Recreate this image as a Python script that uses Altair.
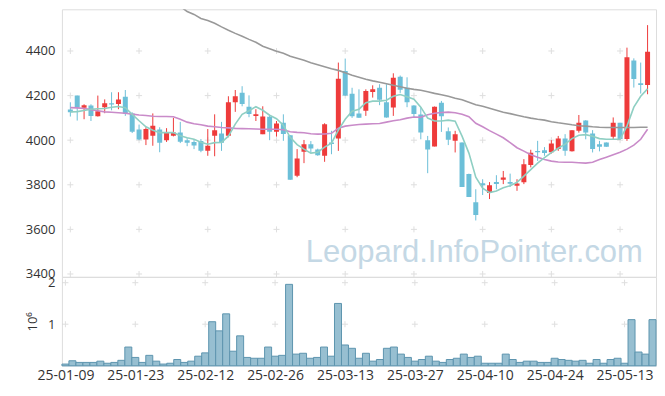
import json
import altair as alt
import pandas as pd

dates = [
    "25-01-09", "25-01-10", "25-01-13", "25-01-14", "25-01-15", "25-01-16", "25-01-17", "25-01-20", "25-01-21", "25-01-22",
    "25-01-23", "25-01-24", "25-01-31", "25-02-03", "25-02-04", "25-02-05", "25-02-06", "25-02-07", "25-02-10", "25-02-11",
    "25-02-12", "25-02-13", "25-02-14", "25-02-17", "25-02-18", "25-02-19", "25-02-20", "25-02-21", "25-02-24", "25-02-25",
    "25-02-26", "25-02-27", "25-02-28", "25-03-04", "25-03-05", "25-03-06", "25-03-07", "25-03-10", "25-03-11", "25-03-12",
    "25-03-13", "25-03-14", "25-03-17", "25-03-18", "25-03-19", "25-03-20", "25-03-21", "25-03-24", "25-03-25", "25-03-26",
    "25-03-27", "25-03-28", "25-03-31", "25-04-01", "25-04-02", "25-04-03", "25-04-04", "25-04-07", "25-04-08", "25-04-09",
    "25-04-10", "25-04-11", "25-04-14", "25-04-15", "25-04-16", "25-04-17", "25-04-18", "25-04-21", "25-04-22", "25-04-23",
    "25-04-24", "25-04-25", "25-04-28", "25-04-29", "25-04-30", "25-05-02", "25-05-07", "25-05-08", "25-05-09", "25-05-12",
    "25-05-13", "25-05-14", "25-05-15", "25-05-16", "25-05-19",
]

opens = [4138, 4200, 4145, 4155, 4107, 4148, 4166, 4162, 4195, 4120,
         4048, 4003, 4020, 4048, 4000, 4020, 4035, 4000, 3992, 3996,
         3953, 4020, 4030, 4020, 4170, 4213, 4150, 4109, 4027, 4105,
         4038, 4078, 4022, 3840, 3948, 3982, 3958, 3930, 3990, 4008,
         4310, 4208, 4120, 4132, 4216, 4235, 4170, 4147, 4284, 4235,
         4155, 4115, 4000, 3972, 4168, 4040, 3998, 3990, 3848, 3722,
         3807, 3763, 3812, 3823, 3812, 3796, 3811, 3889, 3951, 3955,
         3946, 3960, 4008, 3950, 4042, 4088, 4030, 3982, 3990, 4015,
         4078, 4005, 4357, 4255, 4248]
highs = [4170, 4200, 4161, 4161, 4200, 4183, 4215, 4215, 4225, 4125,
         4070, 4058, 4120, 4058, 4054, 4100, 4082, 4009, 4005, 4005,
         4050, 4116, 4082, 4197, 4225, 4242, 4201, 4139, 4152, 4110,
         4086, 4116, 4022, 3960, 4001, 3996, 3962, 4076, 4042, 4348,
         4366, 4235, 4228, 4228, 4246, 4251, 4251, 4300, 4290, 4282,
         4157, 4148, 4019, 4151, 4176, 4057, 4042, 3990, 3850, 3780,
         3825, 3812, 3843, 3862, 3850, 3825, 3915, 3957, 3997, 3969,
         4000, 4019, 4027, 4045, 4113, 4090, 4045, 3997, 3990, 4102,
         4078, 4415, 4367, 4348, 4516]
lows = [4106, 4088, 4094, 4086, 4106, 4121, 4134, 4139, 4109, 4032,
        4000, 3978, 3975, 3946, 3992, 4017, 3987, 3973, 3960, 3946,
        3930, 3928, 3952, 4013, 4127, 4152, 4103, 4086, 4027, 4000,
        4016, 3997, 3822, 3834, 3897, 3943, 3930, 3903, 3937, 3952,
        4198, 4100, 4100, 4109, 4191, 4157, 4101, 4109, 4212, 4148,
        4100, 4004, 3852, 3972, 4037, 3978, 3945, 3790, 3745, 3640,
        3754, 3736, 3780, 3803, 3790, 3773, 3803, 3878, 3907, 3930,
        3940, 3952, 3930, 3949, 4034, 4004, 3945, 3950, 3970, 4004,
        4004, 3997, 4236, 4209, 4206]
closes = [4125, 4145, 4157, 4108, 4130, 4166, 4160, 4182, 4118, 4038,
          4003, 4050, 4065, 3988, 4035, 4035, 3993, 3988, 3976, 3953,
          3975, 4045, 3988, 4170, 4197, 4162, 4117, 4116, 4106, 4038,
          4075, 4028, 3822, 3918, 3982, 3963, 3932, 4072, 3983, 4275,
          4200, 4107, 4101, 4220, 4228, 4181, 4102, 4280, 4226, 4170,
          4117, 4035, 3958, 4150, 4107, 4002, 4027, 3790, 3745, 3665,
          3798, 3798, 3804, 3833, 3805, 3806, 3892, 3944, 3946, 3943,
          3985, 4008, 3953, 4045, 4078, 4035, 3960, 3970, 3971, 4078,
          4005, 4372, 4274, 4247, 4397]
volumes_m = [0.04, 0.12, 0.08, 0.08, 0.08, 0.11, 0.06, 0.08, 0.13, 0.45,
             0.20, 0.08, 0.25, 0.11, 0.04, 0.06, 0.15, 0.08, 0.11, 0.23,
             0.31, 1.06, 0.84, 1.25, 0.35, 0.72, 0.20, 0.18, 0.18, 0.45,
             0.23, 0.25, 1.96, 0.28, 0.30, 0.18, 0.20, 0.45, 0.23, 1.50,
             0.50, 0.42, 0.18, 0.30, 0.11, 0.15, 0.42, 0.45, 0.28, 0.20,
             0.11, 0.15, 0.23, 0.11, 0.08, 0.15, 0.18, 0.28, 0.20, 0.23,
             0.06, 0.06, 0.06, 0.28, 0.15, 0.08, 0.11, 0.11, 0.08, 0.08,
             0.18, 0.15, 0.13, 0.11, 0.13, 0.06, 0.15, 0.06, 0.15, 0.18,
             0.06, 1.11, 0.33, 0.28, 1.11]
ma_short = [4127, 4128, 4133, 4139, 4141, 4142, 4148, 4151, 4146, 4116,
            4087, 4060, 4045, 4034, 4034, 4034, 4020, 4011, 4004, 3991,
            3982, 3989, 3990, 4018, 4072, 4116, 4132, 4150, 4134, 4112,
            4096, 4067, 4013, 3980, 3960, 3942, 3946, 3969, 3987, 4045,
            4094, 4130, 4139, 4168, 4175, 4175, 4179, 4197, 4205, 4195,
            4184, 4148, 4099, 4086, 4086, 4090, 4085, 4018, 3942, 3834,
            3785, 3765, 3772, 3787, 3796, 3811, 3839, 3868, 3897, 3922,
            3944, 3964, 3982, 4007, 4022, 4025, 4018, 4007, 4004, 4004,
            4004, 4063, 4148, 4197, 4230]
ma_mid = [4146, 4145, 4142, 4137, 4132, 4127, 4125, 4123, 4121, 4117,
          4113, 4111, 4107, 4106, 4106, 4105, 4094, 4081, 4074, 4069,
          4063, 4060, 4057, 4055, 4053, 4052, 4051, 4050, 4049, 4049,
          4049, 4047, 4038, 4035, 4033, 4029, 4027, 4028, 4031, 4054,
          4063, 4067, 4070, 4072, 4074, 4075, 4081, 4087, 4092, 4099,
          4104, 4103, 4114, 4121, 4124, 4126, 4123, 4116, 4105, 4076,
          4060, 4043, 4027, 4011, 3989, 3966, 3951, 3935, 3923, 3913,
          3906, 3902, 3901, 3901, 3899, 3897, 3901, 3913, 3924, 3935,
          3946, 3960, 3978, 4004, 4049]
ma_long = [None] * 16 + [
    4600, 4577, 4564, 4546,
    4537, 4524, 4508, 4493, 4479, 4466, 4452, 4439, 4421, 4410,
    4399, 4390, 4376, 4367, 4358, 4347, 4338, 4329, 4320, 4313,
    4302, 4291, 4282, 4273, 4266, 4260, 4253, 4246, 4240, 4233,
    4228, 4224, 4217, 4210, 4204, 4197, 4188, 4181, 4170, 4159,
    4152, 4143, 4134, 4125, 4119, 4112, 4105, 4099, 4094, 4090,
    4083, 4078, 4074, 4069, 4065, 4063, 4060, 4058, 4057, 4057,
    4057, 4057, 4057, 4058, 4058]

x_ticks = [0, 10, 20, 30, 40, 50, 60, 70, 80]
price_ticks = [3400, 3600, 3800, 4000, 4200, 4400]
volume_ticks = [1, 2]
watermark = "Leopard.InfoPointer.com"

FONT = "Open Sans"
RED = "#ee3b3b"
BLUE = "#6cbfd8"

n = len(dates)
df = pd.DataFrame({
    "i": list(range(n)), "date": dates, "open": opens, "high": highs,
    "low": lows, "close": closes, "vol": volumes_m,
    "ma5": ma_short, "ma20": ma_mid, "ma60": ma_long,
})
df["dir"] = ["up" if c >= o else "down" for o, c in zip(opens, closes)]
df["lo"] = df["i"] - 0.5
df["hi"] = df["i"] + 0.5
df["zero"] = 0.0

grid_price = pd.DataFrame([(x, y) for x in x_ticks for y in price_ticks], columns=["gx", "gy"])
grid_vol = pd.DataFrame([(x, y) for x in x_ticks for y in volume_ticks], columns=["gx", "gy"])

xscale = alt.Scale(domain=[-0.5, n - 0.5], nice=False, zero=False)
pscale = alt.Scale(domain=[3387, 4587], nice=False, zero=False)
vscale = alt.Scale(domain=[0, 2.14], nice=False)
color_scale = alt.Scale(domain=["up", "down"], range=[RED, BLUE])

paxis = alt.Axis(values=price_ticks, format="d", title=None, ticks=False, domain=False, grid=False,
                 labelPadding=7, labelFontSize=13, labelColor="#333333", labelFont=FONT)

label_map = {str(t): dates[t] for t in x_ticks}
label_expr = "(" + json.dumps(label_map) + ")[toString(datum.value)]"

cross = "M-1,0L1,0M0,-1L0,1"

px = alt.X("i:Q", scale=xscale, axis=None)

p_grid = alt.Chart(grid_price).mark_point(shape=cross, size=36, filled=False, color="#d2d2d2", strokeWidth=1).encode(
    x=alt.X("gx:Q", scale=xscale, axis=None),
    y=alt.Y("gy:Q", scale=pscale, axis=paxis),
)
wm = alt.Chart(pd.DataFrame({"t": [watermark]})).mark_text(
    font="Liberation Sans", fontSize=31, color="#c4d8e5", align="center", baseline="alphabetic"
).encode(x=alt.value(413), y=alt.value(253), text="t:N")

base = alt.Chart(df)
wicks = base.mark_rule(strokeWidth=1, clip=True).encode(
    x=px, y=alt.Y("low:Q", scale=pscale, axis=paxis), y2="high:Q",
    color=alt.Color("dir:N", scale=color_scale, legend=None),
)
bodies = base.mark_bar(size=5, clip=True, orient="vertical").encode(
    x=px, y=alt.Y("open:Q", scale=pscale, axis=paxis), y2="close:Q",
    color=alt.Color("dir:N", scale=color_scale, legend=None),
)
l_long = base.transform_filter("isValid(datum.ma60)").mark_line(color="#999999", strokeWidth=1.6, clip=True).encode(
    x=px, y=alt.Y("ma60:Q", scale=pscale, axis=paxis))
l_mid = base.mark_line(color="#c98bc9", strokeWidth=1.6, clip=True).encode(
    x=px, y=alt.Y("ma20:Q", scale=pscale, axis=paxis))
l_short = base.mark_line(color="#8fcfc3", strokeWidth=1.6, clip=True).encode(
    x=px, y=alt.Y("ma5:Q", scale=pscale, axis=paxis))

price = alt.layer(p_grid, wm, wicks, bodies, l_long, l_mid, l_short).properties(width=595, height=268)

vaxis = alt.Axis(values=volume_ticks, title="10⁶", ticks=False, domain=False, grid=False,
                 labelPadding=7, labelFontSize=13, labelColor="#333333", labelFont=FONT,
                 titleFont=FONT, titleFontSize=13, titleFontWeight="normal", titleColor="#333333",
                 titlePadding=8)
xaxis = alt.Axis(values=x_ticks, labelExpr=label_expr, title=None, ticks=False, domain=True,
                 domainColor="#cfe0ea", grid=False, labelPadding=3, labelFontSize=14,
                 labelColor="#333333", labelFont=FONT, labelFlush=False)

v_grid = alt.Chart(grid_vol).mark_point(shape=cross, size=36, filled=False, color="#d2d2d2", strokeWidth=1).encode(
    x=alt.X("gx:Q", scale=xscale, axis=xaxis),
    y=alt.Y("gy:Q", scale=vscale, axis=vaxis),
)
vbars = base.mark_rect(fill="#97bfd1", stroke="#5d95af", strokeWidth=1).encode(
    x=alt.X("lo:Q", scale=xscale, axis=xaxis), x2="hi:Q",
    y=alt.Y("vol:Q", scale=vscale, axis=vaxis), y2="zero:Q",
)
volume = alt.layer(v_grid, vbars).properties(width=595, height=89)

chart = alt.vconcat(price, volume, spacing=0, bounds="flush").properties(
    padding={"left": 16, "top": 0, "right": 0, "bottom": 0}
).configure_view(stroke="#e2e2e2").configure(background="white")

chart.save("out.html", embed_options={"renderer": "svg", "actions": False})
